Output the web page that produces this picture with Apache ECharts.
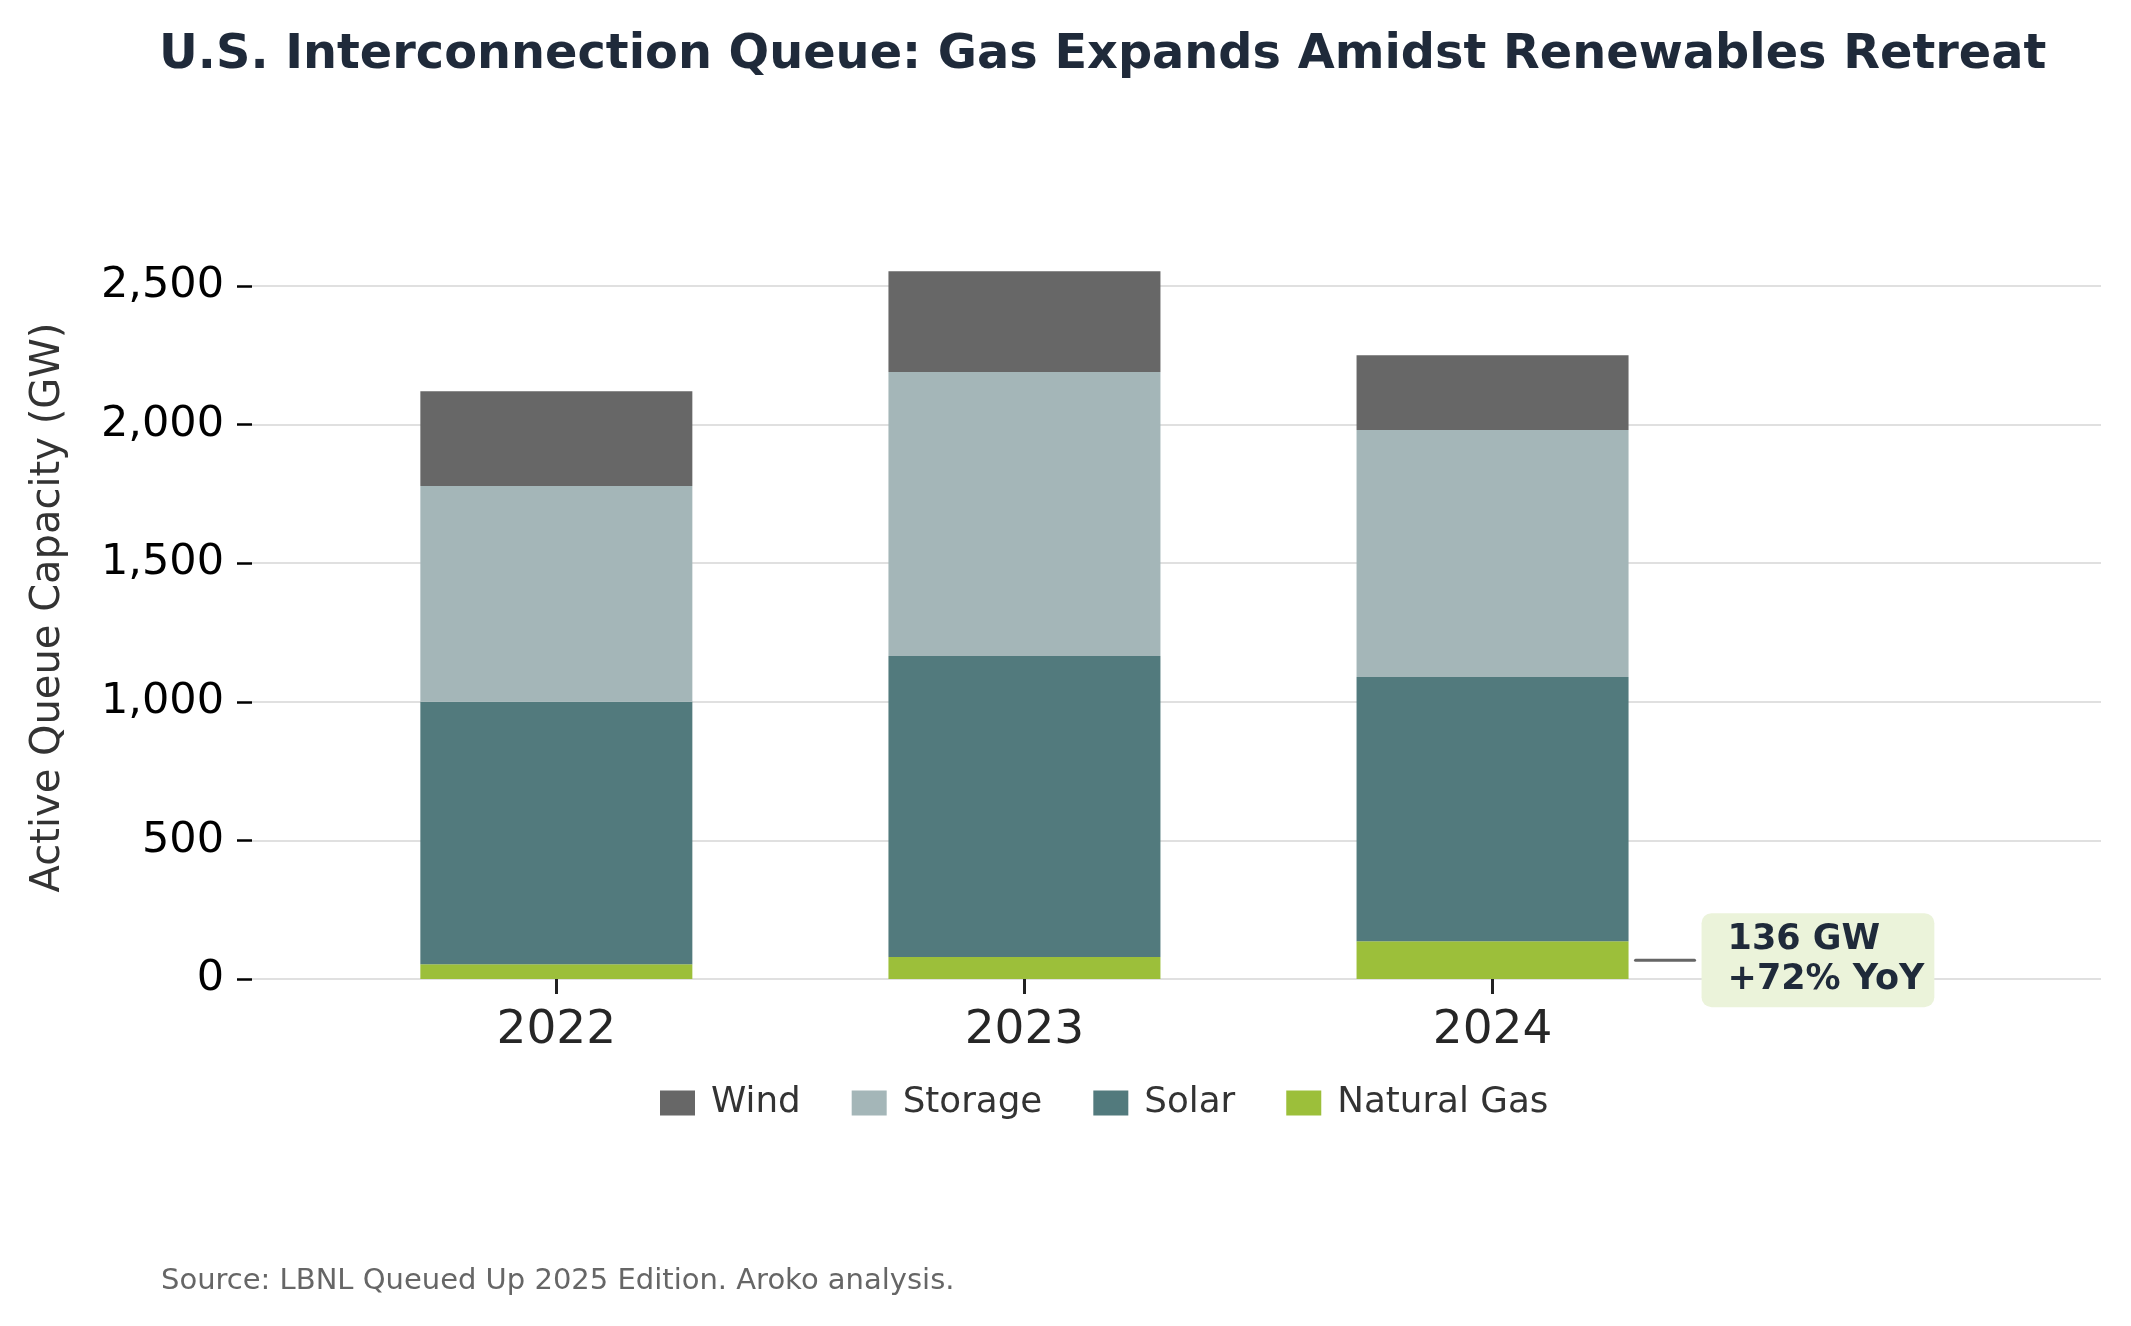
<!DOCTYPE html>
<html><head><meta charset="utf-8">
<script src="https://cdn.jsdelivr.net/npm/echarts@6/dist/echarts.min.js"></script>
<style>html,body{margin:0;padding:0;background:#fff}#c{width:2131px;height:1326px}</style>
</head><body><div id="c"></div>
<script>
const years = ['2022', '2023', '2024'];
const gas = [53, 79, 136];
const solar = [947, 1086, 953];
const storage = [778, 1024, 891];
const wind = [342, 364, 270];
const yTicks = [0, 500, 1000, 1500, 2000, 2500];
const legendOrder = ['Wind', 'Storage', 'Solar', 'Natural Gas'];
const annotationLines = ['136 GW', '+72% YoY'];
const annotationIndex = 2;

const F = '"DejaVu Sans"';
const chart = echarts.init(document.getElementById('c'), null, {renderer: 'canvas', width: 2131, height: 1326});
const barW = 272;
const Y_MAX = 2680;
function barSeries(name, data, color) {
  return {name, type: 'bar', stack: 'total', data: data, barWidth: barW,
    xAxisIndex: 1, yAxisIndex: 1, itemStyle: {color}, emphasis: {disabled: true}};
}
const option = {
  backgroundColor: '#fff',
  animation: false,
  title: {
    text: 'U.S. Interconnection Queue: Gas Expands Amidst Renewables Retreat',
    left: 154, top: 27,
    textStyle: {fontFamily: F, fontWeight: 'bold', fontSize: 47.8, color: '#1f2a3a'}
  },
  legend: {
    data: legendOrder, left: 655, top: 1080, itemWidth: 35, itemHeight: 25, itemGap: 51,
    icon: 'rect', selectedMode: false,
    textStyle: {fontFamily: F, fontSize: 35.7, color: '#333', padding: [0, 0, 0, 11]}
  },
  grid: [
    {left: 252, right: 30, top: 236, bottom: 347},
    {left: 322.3, width: 1404.3, top: 236, bottom: 347}
  ],
  xAxis: [
    {type: 'value', gridIndex: 0, min: 0, max: 1, show: false},
    {
      type: 'category', gridIndex: 1, data: years, boundaryGap: true,
      axisLine: {show: false}, splitLine: {show: false},
      axisTick: {show: true, alignWithLabel: true, length: 15, lineStyle: {color: '#222', width: 3}},
      axisLabel: {fontFamily: F, fontSize: 47, color: '#262626', margin: 28}
    }
  ],
  yAxis: [
    {
      type: 'value', gridIndex: 0, min: 0, max: Y_MAX,
      name: 'Active Queue Capacity (GW)', nameLocation: 'middle', nameGap: 183,
      nameTextStyle: {fontFamily: F, fontSize: 40, color: '#333'},
      axisLine: {show: false, onZero: false},
      axisTick: {show: true, customValues: yTicks, length: 15, lineStyle: {color: '#000', width: 2.5}},
      axisLabel: {customValues: yTicks, formatter: v => v.toLocaleString('en-US'), fontFamily: F, fontSize: 43, color: '#000', margin: 28, padding: [10, 0, 0, 0]},
      splitLine: {show: true, lineStyle: {color: '#e0e0e0', width: 2}}
    },
    {type: 'value', gridIndex: 1, min: 0, max: Y_MAX, show: false, splitLine: {show: false}}
  ],
  graphic: [{
    type: 'text', left: 161, top: 1267,
    style: {text: 'Source: LBNL Queued Up 2025 Edition. Aroko analysis.', font: '29px "DejaVu Sans"', fill: '#666'}
  }],
  series: [
    barSeries('Natural Gas', gas, '#9cbf3a'),
    barSeries('Solar', solar, '#527a7d'),
    barSeries('Storage', storage, '#a4b6b8'),
    barSeries('Wind', wind, '#676767'),
    {
      type: 'custom', silent: true, z: 10, xAxisIndex: 1, yAxisIndex: 1,
      data: [[annotationIndex, gas[annotationIndex]]],
      renderItem: (params, api) => {
        const p = api.coord([api.value(0), api.value(1) / 2]);
        const x0 = p[0] + barW / 2 + 7;
        return {type: 'group', children: [
          {type: 'line', shape: {x1: x0, y1: p[1], x2: x0 + 59, y2: p[1]},
            style: {stroke: '#666', lineWidth: 3, lineCap: 'round'}},
          {type: 'text', x: x0 + 66, y: p[1],
            style: {text: annotationLines.join('\n'), font: 'bold 35px "DejaVu Sans"', fill: '#1f2a3a',
              align: 'left', verticalAlign: 'middle', lineHeight: 40,
              backgroundColor: '#ebf3da', padding: [7, 10, 7, 26], borderRadius: 10}}
        ]};
      }
    }
  ]
};
chart.setOption(option);
</script>
</body></html>
